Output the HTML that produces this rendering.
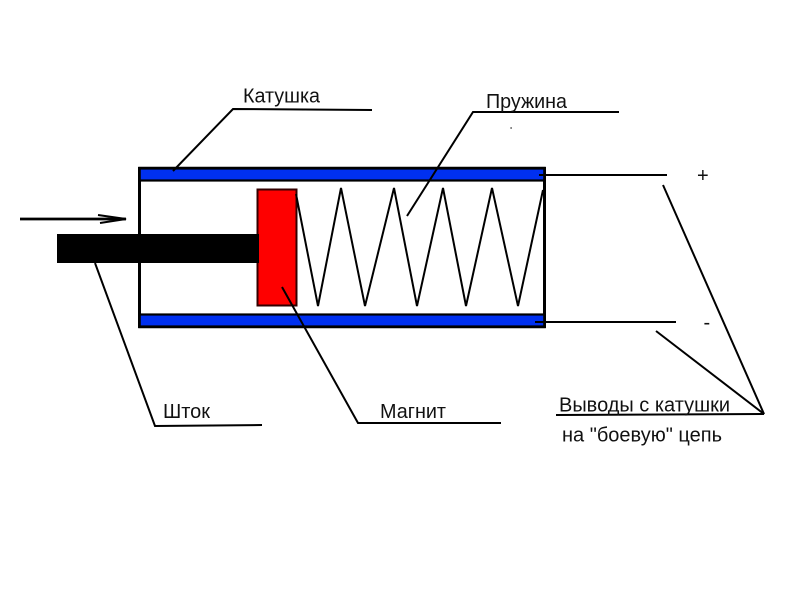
<!DOCTYPE html>
<html><head><meta charset="utf-8"><style>
html,body{margin:0;padding:0;background:#fff}
svg{display:block}
text{font-family:"Liberation Sans",sans-serif;font-size:20px;fill:#111}
</style></head><body>
<svg width="800" height="600" viewBox="0 0 800 600" xmlns="http://www.w3.org/2000/svg">
<rect width="800" height="600" fill="#fff"/>
<rect x="139.5" y="168.5" width="405" height="158" fill="#fff" stroke="#000" stroke-width="3"/>
<rect x="139.5" y="168.5" width="405" height="12" fill="#0030f0" stroke="#000" stroke-width="2.2"/>
<rect x="139.5" y="314.5" width="405" height="12" fill="#0030f0" stroke="#000" stroke-width="2.2"/>
<rect x="139.5" y="168" width="405" height="159" fill="none" stroke="#000" stroke-width="2.5"/>
<rect x="257.5" y="189.5" width="39" height="116" fill="#fe0000" stroke="#300" stroke-width="2"/>
<rect x="57" y="234" width="202" height="29" fill="#000"/>
<g fill="none" stroke="#000" stroke-width="2" stroke-linejoin="miter">
<polyline points="296,194 318,306 341,188 365,306 394,188 417,306 443,188 466,306 492,188 518,306 543,190"/>
<polyline points="173,171 233,109 372,110"/>
<polyline points="407,216 473,112 619,112"/>
<polyline points="95,263 155,426 262,425"/>
<polyline points="282,287 358,423 501,423"/>
<line x1="539" y1="175" x2="667" y2="175"/>
<line x1="535" y1="322" x2="676" y2="322"/>
<polyline points="663,185 764,414 656,331"/>
<line x1="556" y1="415" x2="764" y2="414"/>
<line x1="20" y1="219" x2="126" y2="219" stroke-width="2.8"/>
<polyline points="98,215 126,219 100,223"/>
</g>
<rect x="510.5" y="127" width="1.2" height="2" fill="#555"/>
<text x="243" y="102.5" textLength="77" lengthAdjust="spacingAndGlyphs">Катушка</text>
<text x="486" y="108" textLength="81" lengthAdjust="spacingAndGlyphs">Пружина</text>
<text x="163" y="418" textLength="47" lengthAdjust="spacingAndGlyphs">Шток</text>
<text x="380" y="418" textLength="66" lengthAdjust="spacingAndGlyphs">Магнит</text>
<text x="559" y="411.5" textLength="171" lengthAdjust="spacingAndGlyphs">Выводы с катушки</text>
<text x="562" y="441.5" textLength="160" lengthAdjust="spacingAndGlyphs">на "боевую" цепь</text>
<text x="697" y="182">+</text>
<text x="703.5" y="329">-</text>
</svg>
</body></html>
